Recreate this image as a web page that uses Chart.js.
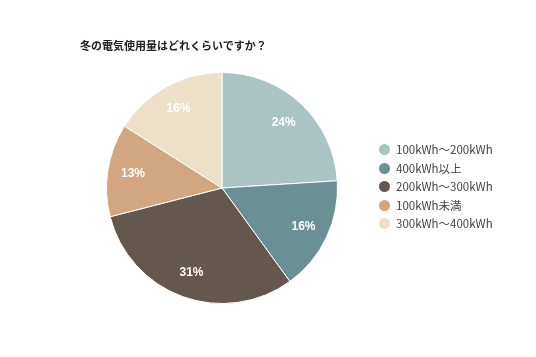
<!DOCTYPE html>
<html><head><meta charset="utf-8">
<script src="https://cdn.jsdelivr.net/npm/chart.js@4"></script>
<style>
html,body{margin:0;padding:0;background:#fff;}
#wrap{position:relative;width:536px;height:357px;}
#title{position:absolute;left:80px;top:37px;font:bold 11px "Noto Sans CJK JP",sans-serif;color:#222;white-space:nowrap;line-height:16px;}
#legend{position:absolute;left:379px;top:140px;font:11.5px "Noto Sans CJK JP","Liberation Sans",sans-serif;color:#444;}
#legend div{height:18.5px;line-height:18.5px;white-space:nowrap;}
#legend span.dot{display:inline-block;width:11px;height:11px;border-radius:50%;vertical-align:-1px;margin-right:6px;}
canvas{position:absolute;left:0;top:0;}
</style></head>
<body><div id="wrap">
<canvas id="c" width="536" height="357"></canvas>
<div id="title">冬の電気使用量はどれくらいですか？</div>
<div id="legend"></div>
</div>
<script>
const categories = ["100kWh～200kWh","400kWh以上","200kWh～300kWh","100kWh未満","300kWh～400kWh"];
const values = [24,16,31,13,16];
const colors = ["#aac3c3","#6a9096","#63574e","#d2a780","#ede0c6"];
const titleText = "冬の電気使用量はどれくらいですか？";
document.getElementById('title').textContent = titleText;
const lg = document.getElementById('legend');
categories.forEach((c,i)=>{
  const d=document.createElement('div');
  d.innerHTML='<span class="dot" style="background:'+colors[i]+'"></span>'+c;
  lg.appendChild(d);
});
const labelPlugin = {
  id:'pctLabels',
  afterDatasetsDraw(chart){
    const ctx=chart.ctx;
    const meta=chart.getDatasetMeta(0);
    ctx.save();
    ctx.fillStyle='#fff';
    ctx.font='bold 12px "Liberation Sans", Arial, sans-serif';
    ctx.textAlign='center';ctx.textBaseline='middle';
    meta.data.forEach((arc,i)=>{
      const p=arc.getProps(['x','y','startAngle','endAngle','outerRadius'],true);
      const a=(p.startAngle+p.endAngle)/2;
      const r=p.outerRadius*0.78;
      ctx.fillText(values[i]+'%', p.x+Math.cos(a)*r, p.y+Math.sin(a)*r);
    });
    ctx.restore();
  }
};
new Chart(document.getElementById('c'),{
  type:'pie',
  data:{labels:categories,datasets:[{data:values,backgroundColor:colors,borderColor:'#fff',borderWidth:1,hoverOffset:0}]},
  options:{
    responsive:false,animation:false,
    layout:{padding:{top:72,bottom:53,left:106,right:198}},
    plugins:{legend:{display:false},tooltip:{enabled:false},title:{display:false}}
  },
  plugins:[labelPlugin]
});
</script>
</body></html>
